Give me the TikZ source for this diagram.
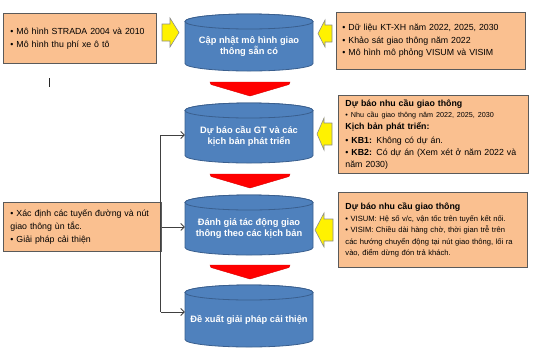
\documentclass[tikz,border=0pt]{standalone}
\usepackage{fontspec}
\setmainfont{Liberation Sans}
\usetikzlibrary{arrows.meta}
\definecolor{boxfill}{HTML}{FAC090}
\definecolor{boxline}{HTML}{5A5A5A}
\definecolor{cylfillc}{HTML}{4F81BD}
\definecolor{cyllinec}{HTML}{3A5F8E}
\definecolor{arrline}{HTML}{8C8C8C}
\newcommand{\mycyl}[4]{%
  \pgfmathsetmacro{\cyA}{#2+7.5}%
  \pgfmathsetmacro{\cyB}{#3-7.5}%
  \pgfmathsetmacro{\cyC}{(#2+7.5+#3)/2}%
  \path[cylbody] (185,\cyA) -- (185,\cyB) arc[start angle=180,end angle=360,x radius=64pt,y radius=7.5pt] -- (313,\cyA) arc[start angle=0,end angle=180,x radius=64pt,y radius=7.5pt] -- cycle;
  \path[cylbody] (249,\cyA) ellipse [x radius=64pt, y radius=7.5pt];
  \node[cyltext] (#1) at (249,\cyC) {#4};
}
\newcommand{\bxline}[1]{\mbox{#1}}
\begin{document}
\begin{tikzpicture}[x=1pt,y=-1pt,
  infobox/.style={draw=boxline, line width=0.9pt, fill=boxfill, align=left, inner xsep=7pt, inner ysep=2pt, anchor=north west, font=\fontsize{8.8}{13}\selectfont},
  cylbody/.style={fill=cylfillc, draw=cyllinec, line width=0.8pt},
  cyltext/.style={text=white, font=\fontsize{9.3}{11}\selectfont\bfseries, align=center, minimum width=128pt, inner sep=0pt},
  yarrow/.style={fill=yellow, draw=arrline, line width=0.6pt, line join=miter},
  rarrow/.style={fill=red, draw=red!85!black, line width=0.4pt},
  conn/.style={draw=black!75, line width=0.8pt},
  arr/.style={conn, -{Straight Barb[length=3.5pt,width=7pt]}}
]
\useasboundingbox (0,0) rectangle (540,360);

% info boxes
\node[infobox, text width=139pt, minimum height=50pt] (b1) at (3,13)
  {\bxline{• Mô hình STRADA 2004 và 2010}\\\bxline{• Mô hình thu phí xe ô tô}};
\node[infobox, inner xsep=6pt, text width=177pt, minimum height=57pt, font=\fontsize{8.8}{12.5}\selectfont] (r1) at (336,12)
  {\bxline{• Dữ liệu KT-XH năm 2022, 2025, 2030}\\\bxline{• Khảo sát giao thông năm 2022}\\\bxline{• Mô hình mô phỏng VISUM và VISIM}};
\node[infobox, text width=176pt, minimum height=78pt, font=\fontsize{8.8}{11.5}\selectfont] (r2) at (338,95)
  {\bxline{\bfseries Dự báo nhu cầu giao thông}\\
   \bxline{\fontsize{7.2}{9}\selectfont • Nhu cầu giao thông năm 2022, 2025, 2030}\\
   \bxline{\bfseries Kịch bản phát triển:}\\[3pt]
   \bxline{• \textbf{KB1:} Không có dự án.}\\[0.5pt]
   \bxline{• \textbf{KB2:} Có dự án (Xem xét ở năm 2022 và}\\
   \bxline{năm 2030)}};
\node[infobox, text width=175pt, minimum height=75pt, font=\fontsize{7.6}{11.5}\selectfont] (r3) at (338,192)
  {\bxline{\fontsize{8.8}{11}\selectfont\bfseries Dự báo nhu cầu giao thông}\\
   \bxline{• VISUM: Hệ số v/c, vận tốc trên tuyến kết nối.}\\
   \bxline{• VISIM: Chiều dài hàng chờ, thời gian trễ trên}\\
   \bxline{các hướng chuyển động tại nút giao thông, lối ra}\\
   \bxline{vào, điểm dừng đón trả khách.}};
\node[infobox, text width=144pt, minimum height=49pt] (l2) at (3,202)
  {\bxline{• Xác định các tuyến đường và nút}\\\bxline{giao thông ùn tắc.}\\\bxline{• Giải pháp cải thiện}};

% stray mark
\draw[line width=1pt, black!85] (49.5,78) -- (49.5,87);

% cylinders
\mycyl{c1}{14}{71}{Cập nhật mô hình giao\\thông sẵn có}
\mycyl{c2}{103}{163}{Dự báo cầu GT và các\\kịch bản phát triển}
\mycyl{c3}{195}{255}{Đánh giá tác động giao\\thông theo các kịch bản}
\mycyl{c4}{285}{347}{Đề xuất giải pháp cải thiện}

% red down arrows
\foreach \ty in {82,174,265}{
  \path[rarrow] (210,\ty) -- (290,\ty) -- (289,\ty+2.5) -- (250,\ty+14) -- (211,\ty+2.5) -- cycle;
}

% yellow arrows
\path[yarrow] (162,24) -- (170,24) -- (170,18) -- (179,32.5) -- (170,47) -- (170,41) -- (162,41) -- cycle;
\path[yarrow] (332,25) -- (325,25) -- (325,20) -- (318,33.5) -- (325,47) -- (325,42) -- (332,42) -- cycle;
\path[yarrow] (332,123) -- (324,123) -- (324,118) -- (317,134) -- (324,150) -- (324,145) -- (332,145) -- cycle;
\path[yarrow] (333,219) -- (324,219) -- (324,213) -- (315,230) -- (324,247) -- (324,241) -- (333,241) -- cycle;

% connectors
\coordinate (j1) at (160.5,135);
\coordinate (j3) at (160.5,312);
\path[conn] (j1) -- (j3);
\draw[arr] (j1) -- (c2.west |- j1);
\draw[arr] (l2.east) -- (c3.west |- l2.east);
\draw[arr] (j3) -- (c4.west |- j3);
\end{tikzpicture}
\end{document}
